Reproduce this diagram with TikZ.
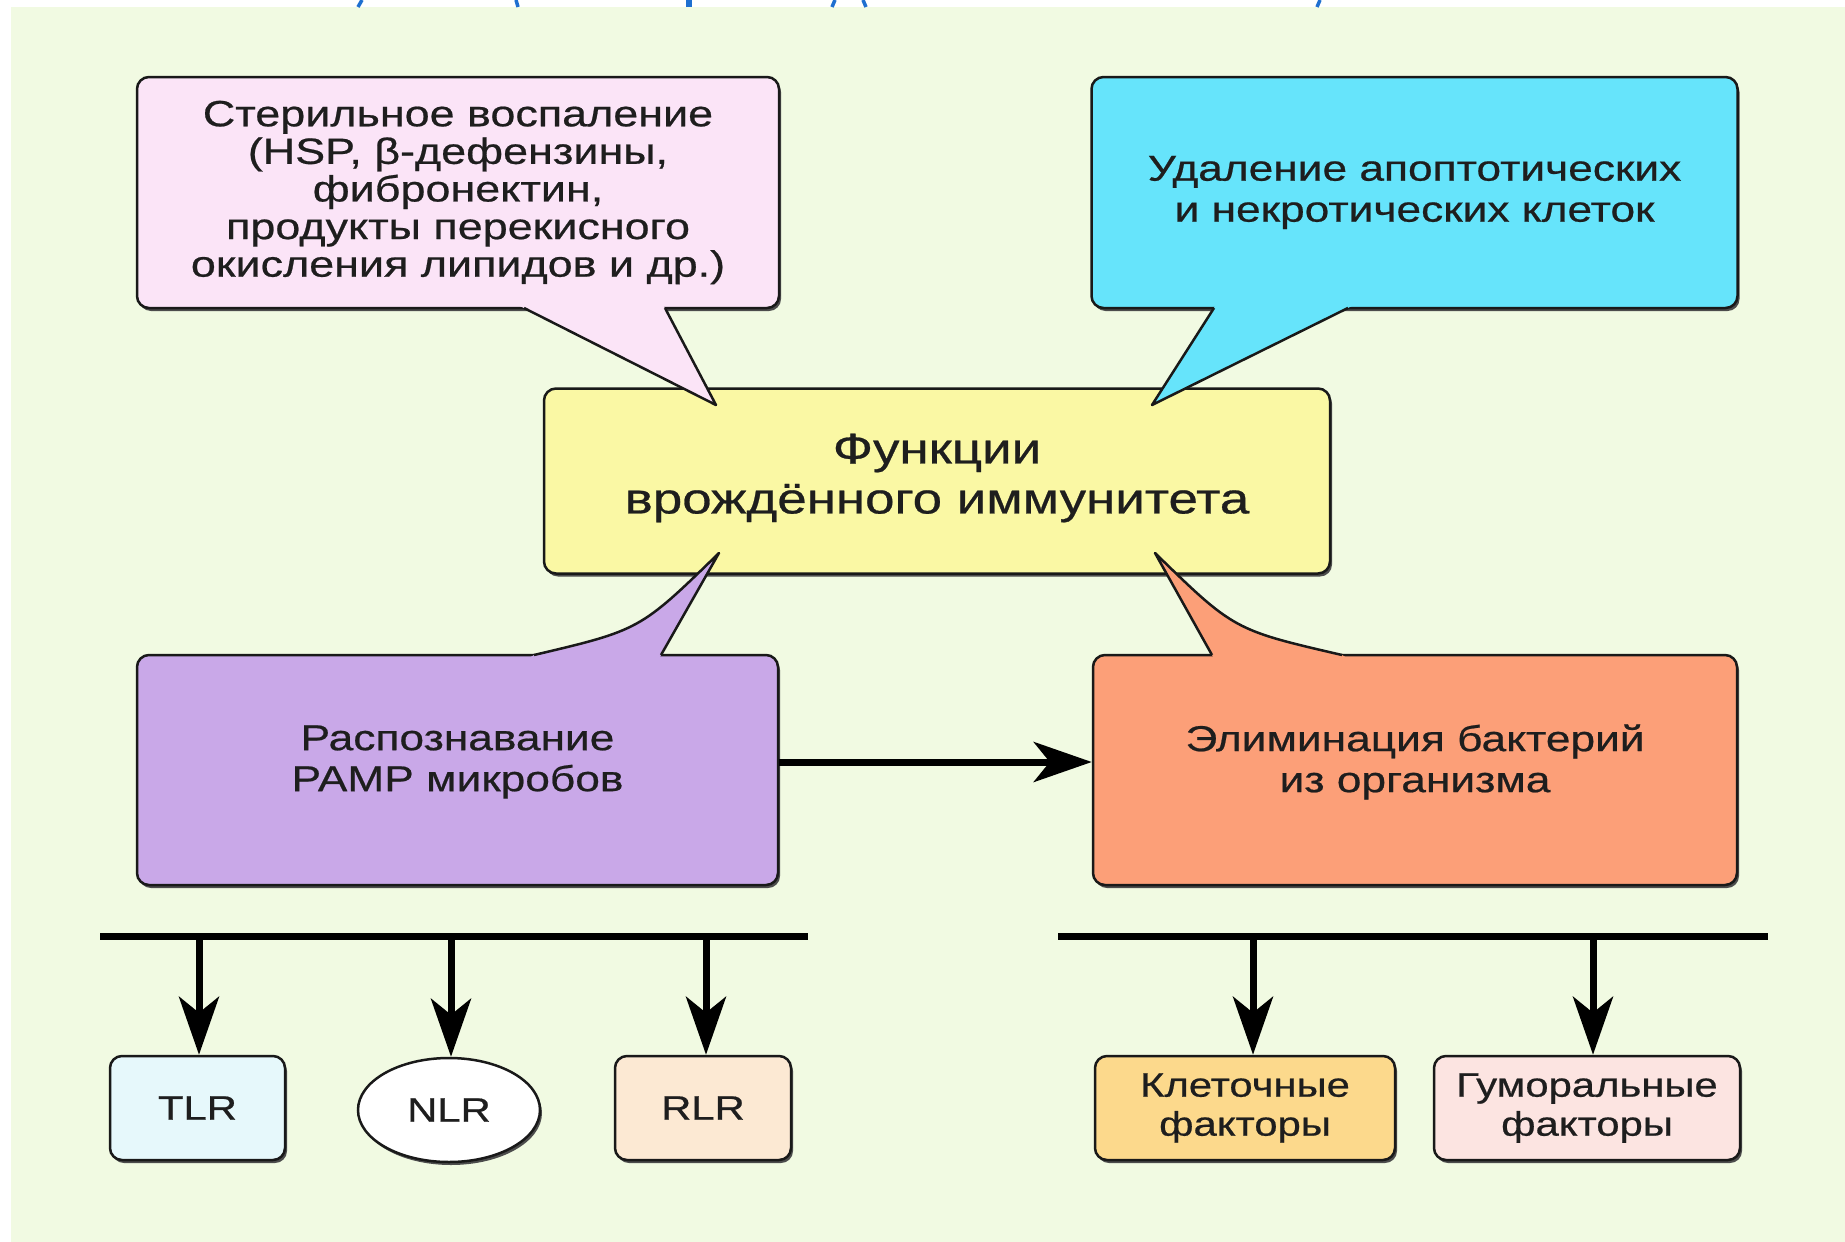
\documentclass[tikz,border=0pt]{standalone}
\usepackage{fontspec}
\setmainfont[FakeStretch=1.23,FakeBold=0.6]{Liberation Sans}
\usetikzlibrary{arrows.meta,shapes.geometric,shadows}
\definecolor{bgc}{HTML}{F1FAE2}
\definecolor{pinkc}{HTML}{FBE4F7}
\definecolor{bluec}{HTML}{66E4FB}
\definecolor{yelc}{HTML}{FAF8A4}
\definecolor{purc}{HTML}{C9A8E8}
\definecolor{orac}{HTML}{FC9F78}
\definecolor{tlrc}{HTML}{E6F8FB}
\definecolor{rlrc}{HTML}{FCE9D3}
\definecolor{klc}{HTML}{FCD98C}
\definecolor{gumc}{HTML}{FCE4E1}
\definecolor{titc}{HTML}{1E6FD0}
\definecolor{txtc}{HTML}{1E1E1E}
\begin{document}
\begin{tikzpicture}[x=1pt,y=-1pt,
  box/.style={draw=black!90, line width=2.5pt, rounded corners=12pt, inner sep=0pt,
    drop shadow={shadow xshift=2pt, shadow yshift=-3pt, fill=black!70, opacity=1}},
  ellbox/.style={ellipse, draw=black!90, line width=2.5pt, inner sep=0pt,
    drop shadow={shadow xshift=2pt, shadow yshift=-3pt, fill=black!70, opacity=1}},
  lbl/.style={align=center, text=txtc, inner sep=0pt},
  tailside/.style={draw=black!90, line width=2.5pt, line join=round},
  pinktxt/.style={lbl, font=\fontsize{36.5}{37.6}\selectfont},
  midtxt/.style={lbl, font=\fontsize{36}{41}\selectfont},
  centtxt/.style={lbl, font=\fontsize{43}{50}\selectfont},
  smalltxt/.style={lbl, font=\fontsize{34}{39}\selectfont},
  arr/.style={line width=7pt, -{Stealth[length=58pt,width=40pt,inset=16pt]}},
  barline/.style={line width=7pt},
  titstroke/.style={draw=titc, line width=3.5pt}]
\useasboundingbox (0,0) rectangle (1845,1242);
\fill[white] (0,0) rectangle (1845,1242);
\fill[bgc] (11,7) rectangle (1845,1242);
% cut-off title fragments
\draw[titstroke] (362,0) -- (358,7);
\draw[titstroke] (516,0) -- (518,7);
\draw[titstroke, line width=6pt] (689,0) -- (689,7);
\draw[titstroke] (835,0) -- (832,7);
\draw[titstroke] (863,0) -- (866,7);
\draw[titstroke] (1320,0) -- (1317,7);

% central box
\node[box, fill=yelc, minimum width=786pt, minimum height=185pt] (center) at (937,481) {};
\node[centtxt] (center-t) at ([yshift=3pt]center.center) {Функции\\врождённого иммунитета};

% top bubbles
\node[box, fill=pinkc, minimum width=642pt, minimum height=231pt] (steril) at (458,192.5) {};
\node[box, fill=bluec, minimum width=646pt, minimum height=231pt] (udal) at (1414.5,192.5) {};

% bottom bubbles
\node[box, fill=purc, minimum width=641pt, minimum height=230pt] (rasp) at (457.5,770) {};
\node[box, fill=orac, minimum width=644pt, minimum height=230pt] (elim) at (1415,770) {};

% tails
\coordinate (t1) at (716,405);
\coordinate (t2) at (1152,405);
\coordinate (t3) at (719,553);
\coordinate (t4) at (1155,553);
\fill[pinkc] (514,303) -- (662,303) -- (t1) -- cycle;
\draw[tailside] (524,308) -- (t1) -- (665,308);
\fill[bluec] (1217,303) -- (1358,303) -- (t2) -- cycle;
\draw[tailside] (1214,308) -- (t2) -- (1348,308);
\fill[purc] (524,661) -- (534,655) .. controls (640,630) .. (t3) -- (661,655) -- (658,661) -- cycle;
\draw[tailside] (534,655) .. controls (640,630) .. (t3) -- (661,655);
\fill[orac] (1352,661) -- (1342,655) .. controls (1234,630) .. (t4) -- (1212,655) -- (1215,661) -- cycle;
\draw[tailside] (1342,655) .. controls (1234,630) .. (t4) -- (1212,655);

% texts of bubbles
\node[pinktxt] (steril-t) at (steril.center)
  {Стерильное воспаление\\(HSP, β-дефензины,\\фибронектин,\\продукты перекисного\\окисления липидов и др.)};
\node[midtxt] (udal-t) at (udal.center) {Удаление апоптотических\\и некротических клеток};
\node[midtxt] (rasp-t) at ([yshift=8pt]rasp.center) {Распознавание\\PAMP микробов};
\node[midtxt] (elim-t) at ([yshift=8pt]elim.center) {Элиминация бактерий\\из организма};

% arrow between bottom bubbles
\draw[arr] ([yshift=8pt]rasp.east) -- ([yshift=8pt]elim.west);

% bottom nodes
\node[box, fill=tlrc, smalltxt, minimum width=175pt, minimum height=104pt] (tlr) at (197.5,1108) {TLR};
\node[ellbox, fill=white, smalltxt, minimum width=182pt, minimum height=104pt] (nlr) at (449,1110) {NLR};
\node[box, fill=rlrc, smalltxt, minimum width=176pt, minimum height=104pt] (rlr) at (703,1108) {RLR};
\node[box, fill=klc, smalltxt, minimum width=300pt, minimum height=104pt] (kl) at (1245,1108) {Клеточные\\факторы};
\node[box, fill=gumc, smalltxt, minimum width=306pt, minimum height=104pt] (gum) at (1587,1108) {Гуморальные\\факторы};

% bars
\coordinate (lbl) at (100,936);
\coordinate (lbr) at (808,936);
\coordinate (rbl) at (1058,936);
\coordinate (rbr) at (1768,936);
\draw[barline] (lbl) -- (lbr);
\draw[barline] (rbl) -- (rbr);
\coordinate (a1) at (199,936);
\coordinate (a2) at (451,936);
\coordinate (a3) at (706,936);
\coordinate (a4) at (1253,936);
\coordinate (a5) at (1593,936);
\draw[arr] (a1) -- (a1 |- tlr.north);
\draw[arr] (a2) -- (a2 |- nlr.north);
\draw[arr] (a3) -- (a3 |- rlr.north);
\draw[arr] (a4) -- (a4 |- kl.north);
\draw[arr] (a5) -- (a5 |- gum.north);
\end{tikzpicture}
\end{document}
